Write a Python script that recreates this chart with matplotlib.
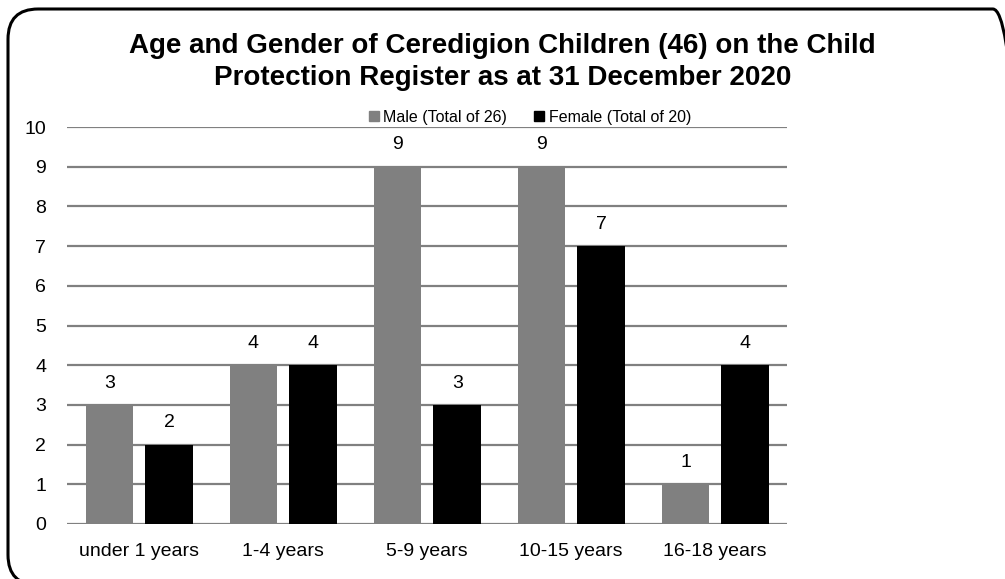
import matplotlib.pyplot as plt
import numpy as np
from matplotlib.patches import FancyBboxPatch, Patch

ages = ['under 1 years', '1-4 years', '5-9 years', '10-15 years', '16-18 years']
male = [3, 4, 9, 9, 1]
female = [2, 4, 3, 7, 4]
legend_labels = ['Male (Total of 26)', 'Female (Total of 20)']
title_lines = ['Age and Gender of Ceredigion Children (46) on the Child',
               'Protection Register as at 31 December 2020']

plt.rcParams['font.family'] = ['Liberation Sans', 'DejaVu Sans']

W, H = 1005, 579
fig = plt.figure(figsize=(W / 100, H / 100), dpi=100)
# rounded frame, runs off the right and bottom edges like the original crop
frame = FancyBboxPatch((8 / W, -6 / H), 1015 / W, 576 / H, boxstyle='round,pad=0,rounding_size=0.03',
                       transform=fig.transFigure, fill=False, edgecolor='black', linewidth=2.2,
                       mutation_aspect=W / H)
fig.patches.append(frame)

ax = fig.add_axes([67 / W, 1 - 524 / H, 720 / W, (524 - 127) / H])
x = np.arange(len(ages))
w = 0.33
b1 = ax.bar(x - 0.205, male, w, color='#808080')
b2 = ax.bar(x + 0.21, female, w, color='black')
for bars, vals in ((b1, male), (b2, female)):
    for r, v in zip(bars, vals):
        ax.text(r.get_x() + r.get_width() / 2, v + 0.55, str(v), ha='center', va='center', fontsize=14)

ax.set_xlim(-0.5, 4.5)
ax.set_ylim(0, 10)
ax.set_yticks(range(11))
ax.set_xticks(x)
ax.set_xticklabels(ages)
ax.tick_params(axis='both', length=0, labelsize=14)
ax.tick_params(axis='y', pad=15)
ax.tick_params(axis='x', pad=14)
ax.grid(axis='y', color='#808080', linewidth=1.6)
ax.set_axisbelow(True)
for s in ax.spines.values():
    s.set_visible(False)

for line, ypx in zip(title_lines, (46, 78)):
    fig.text(0.5, 1 - ypx / H, line, ha='center', va='center', fontsize=20, fontweight='bold')

handles = [Patch(color='#808080'), Patch(color='black')]
fig.legend(handles, legend_labels, loc='center', bbox_to_anchor=(530 / W, 1 - 117 / H), ncol=2, frameon=False,
           fontsize=11.5, handlelength=0.6, handleheight=0.6, handletextpad=0.3, columnspacing=1.7,
           borderpad=0, borderaxespad=0)

fig.savefig('out.png', dpi=100)
